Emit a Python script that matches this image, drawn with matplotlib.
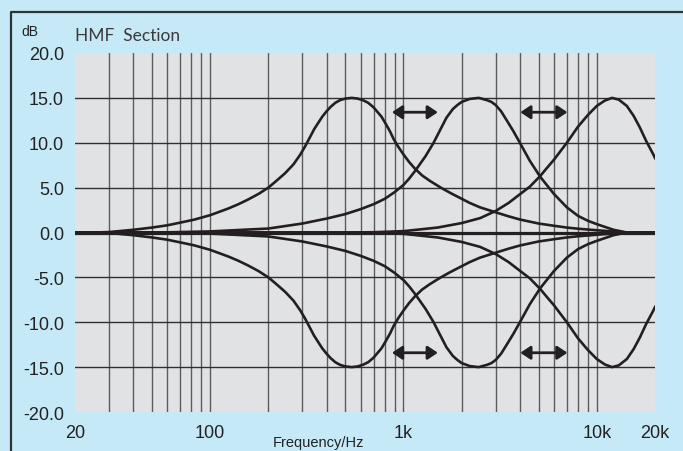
import matplotlib
matplotlib.use('Agg')
import matplotlib.pyplot as plt
from matplotlib.lines import Line2D

# HMF (high-mid) section: boost curves for the three band centres, cuts are mirror images
low_freq = [20, 25, 30, 40, 50, 60, 70, 83, 100, 124, 140, 157, 178, 200, 220, 244, 270, 293,
            310, 328, 345, 362, 380, 400, 420, 444, 470, 500, 540, 580, 620, 657, 700, 729,
            770, 805, 850, 890, 940, 1000, 1070, 1148, 1250, 1370, 1560, 1750, 1962, 2200,
            2490, 3000, 3500, 4000, 5000, 6000, 7000, 8000, 10000, 12000, 14300, 20000]
low_gain = [0.0, 0.0, 0.05, 0.3, 0.55, 0.8, 1.1, 1.44, 1.93, 2.67, 3.15, 3.67, 4.3, 5.0, 5.75,
            6.6, 7.6, 8.7, 9.6, 10.6, 11.5, 12.2, 12.9, 13.5, 14.0, 14.45, 14.75, 14.92, 15.0,
            14.92, 14.72, 14.45, 13.95, 13.5, 12.9, 12.2, 11.3, 10.4, 9.55, 8.7, 7.85, 7.1,
            6.35, 5.75, 5.0, 4.4, 3.85, 3.3, 2.8, 2.25, 1.8, 1.45, 1.0, 0.75, 0.55, 0.42, 0.25,
            0.12, 0.0, 0.0]

mid_freq = [20, 60, 100, 200, 300, 400, 500, 600, 700, 800, 900, 1000, 1070, 1148, 1300, 1432,
            1550, 1670, 1800, 1900, 2000, 2200, 2450, 2700, 2850, 3000, 3200, 3420, 3700, 4000,
            4500, 5100, 6000, 7000, 8000, 9000, 10000, 12200, 14300, 20000]
mid_gain = [0.0, 0.02, 0.12, 0.44, 1.0, 1.55, 2.05, 2.6, 3.15, 3.75, 4.5, 5.3, 6.0, 6.85, 8.5,
            10.0, 11.45, 12.8, 13.75, 14.2, 14.55, 14.88, 15.0, 14.75, 14.55, 14.2, 13.5, 12.5,
            11.3, 10.0, 8.0, 6.2, 4.3, 2.8, 1.85, 1.3, 0.93, 0.3, 0.0, 0.0]

high_freq = [20, 500, 700, 1000, 1500, 2000, 2490, 3000, 3500, 4000, 4500, 5100, 5500, 6000,
             7000, 8000, 9000, 10000, 11000, 12000, 13000, 14300, 15500, 16700, 18000, 19600,
             20000]
high_gain = [0.0, 0.0, 0.03, 0.15, 0.55, 1.05, 1.6, 2.4, 3.3, 4.26, 5.1, 6.3, 7.15, 8.1, 10.0,
             11.8, 13.1, 14.1, 14.7, 15.0, 14.8, 14.1, 13.0, 11.7, 10.2, 8.7, 8.3]

flat_freq = [20, 20000]
flat_gain = [0.0, 0.0]

# sweep range arrows (Hz, dB)
arrow_spans = [(872, 1506), (4020, 7050)]
arrow_level = 13.4

xtick_pos = [20, 100, 1000, 10000, 20000]
xtick_labels = ['20', '100', '1k', '10k', '20k']
ytick_pos = [20, 15, 10, 5, 0, -5, -10, -15, -20]
vgrid = [30, 40, 50, 60, 70, 80, 90, 100, 200, 300, 400, 500, 600, 700, 800, 900, 1000,
         2000, 3000, 4000, 5000, 6000, 7000, 8000, 9000, 10000]
hgrid = [15, 10, 5, 0, -5, -10, -15]

plt.rcParams['axes.unicode_minus'] = False
plt.rcParams['font.family'] = ['Liberation Sans', 'DejaVu Sans']

bg = '#c6e9f8'
ink = '#231f20'

fig = plt.figure(figsize=(6.83, 4.52), dpi=100, facecolor=bg)
ax = fig.add_axes([75 / 683, 39 / 452, 580 / 683, 359 / 452])
ax.set_facecolor('#e1e2e4')
ax.set_xscale('log')
ax.set_xlim(20, 20000)
ax.set_ylim(-20, 20)

for f in vgrid:
    ax.axvline(f, color='#5c5c5c', lw=1.0, zorder=1)
for g in hgrid:
    ax.axhline(g, color='#303030', lw=1.0, zorder=1)

for fr, gn in [(low_freq, low_gain), (mid_freq, mid_gain), (high_freq, high_gain)]:
    ax.plot(fr, gn, color=ink, lw=1.9, zorder=3, solid_joinstyle='round')
    ax.plot(fr, [-g for g in gn], color=ink, lw=1.9, zorder=3, solid_joinstyle='round')
ax.plot(flat_freq, flat_gain, color=ink, lw=2.3, zorder=3)

for lo, hi in arrow_spans:
    for lvl in (arrow_level, -arrow_level):
        ax.annotate('', xy=(hi, lvl), xytext=(lo, lvl),
                    arrowprops=dict(arrowstyle='<|-|>,head_length=0.6,head_width=0.4',
                                    color=ink, lw=2.0, shrinkA=0, shrinkB=0), zorder=4)

for s in ax.spines.values():
    s.set_visible(False)
ax.tick_params(length=0, labelsize=13, labelcolor='#222222')
ax.tick_params(axis='y', pad=8)
ax.tick_params(axis='x', pad=9)
ax.set_xticks(xtick_pos)
ax.set_xticklabels(xtick_labels)
ax.xaxis.set_minor_locator(plt.NullLocator())
ax.set_yticks(ytick_pos)
ax.set_yticklabels(['%.1f' % v for v in ytick_pos])

fig.text(318 / 683, 1 - 443 / 452, 'Frequency/Hz', ha='center', va='center', fontsize=10.5,
         family=['Liberation Sans Narrow', 'Liberation Sans'], color='#222222')
fig.text(21 / 683, 1 - 32 / 452, 'dB', ha='left', va='center', fontsize=10, color='#222222')
fig.text(75 / 683, 1 - 36 / 452, 'HMF  Section', ha='left', va='center', fontsize=12.5,
         family=['Lato', 'DejaVu Sans'], color='#3a3a3a')

# frame line along the left and top edges
fig.add_artist(Line2D([11 / 683, 11 / 683, 1.0], [0.0, 1 - 13 / 452, 1 - 13 / 452],
                      color='#2e3436', lw=1.6, transform=fig.transFigure))

fig.savefig('out.png', dpi=100, facecolor=bg)
